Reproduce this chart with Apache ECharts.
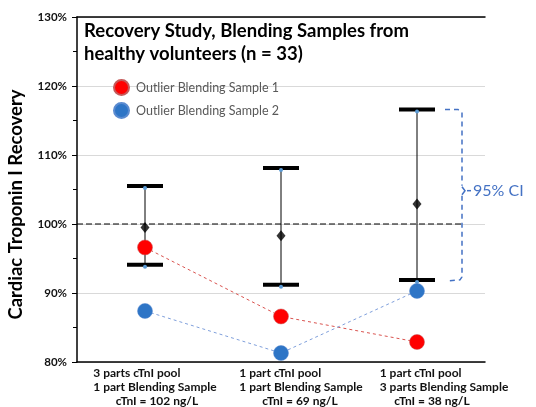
<!DOCTYPE html>
<html><head><meta charset="utf-8">
<script src="https://cdn.jsdelivr.net/npm/echarts@6/dist/echarts.min.js"></script>
<style>html,body{margin:0;padding:0;background:#fff}#c{width:536px;height:407px}</style>
</head><body><div id="c"></div>
<script>
const categories = [
  '3 parts cTnI pool\n1 part Blending Sample\ncTnI = 102 ng/L',
  '1 part cTnI pool\n1 part Blending Sample\ncTnI = 69 ng/L',
  '1 part cTnI pool\n3 parts Blending Sample\ncTnI = 38 ng/L'
];
const ciLow = [0.941, 0.912, 0.919];
const ciHigh = [1.055, 1.081, 1.166];
const meanRecovery = [0.995, 0.983, 1.029];
const outlier1 = [0.966, 0.866, 0.829];
const outlier2 = [0.874, 0.813, 0.903];
const yTicks = [0.8, 0.9, 1.0, 1.1, 1.2, 1.3];
const referenceLevel = 1.0;

// layout only: horizontal nudges of the category label blocks (px)
const labelShift = [10, 20, 27];
const lastLineShift = [2, -1, -12];

const FONT = 'Lato';
const chart = echarts.init(document.getElementById('c'), null, {renderer: 'canvas'});

const errData = categories.map((c, i) => [i, ciLow[i], ciHigh[i]]);
const xLabelStyle = {fontFamily: FONT, fontWeight: 'bold', fontSize: 12, color: '#111', lineHeight: 14};
const rich = {};
labelShift.forEach((s, i) => {
  const P = 2 * s, e = 2 * lastLineShift[i];
  rich['a' + i] = Object.assign({}, xLabelStyle, {align: 'left', padding: [0, 0, 0, P]});
  rich['b' + i] = Object.assign({}, xLabelStyle, {align: 'center', padding: [0, 0, 0, P]});
  rich['c' + i] = Object.assign({}, xLabelStyle, {align: 'center', padding: [0, Math.max(0, -e), 0, P + Math.max(0, e)]});
});

const option = {
  animation: false,
  textStyle: {fontFamily: FONT},
  grid: {left: 77, right: 51, top: 17, bottom: 45, outerBoundsMode: 'none', containLabel: false},
  title: {
    text: 'Recovery Study, Blending Samples from\nhealthy volunteers (n = 33)',
    left: 79, top: 15,
    textStyle: {fontFamily: FONT, fontWeight: 'bold', fontSize: 18.5, color: '#000', lineHeight: 23}
  },
  legend: {
    orient: 'vertical', left: 108, top: 74, itemGap: 6, itemWidth: 15, itemHeight: 15,
    icon: 'circle',
    data: ['Outlier Blending Sample 1', 'Outlier Blending Sample 2'],
    textStyle: {fontFamily: FONT, fontSize: 12.5, color: '#595959', padding: [0,0,0,2]}
  },
  xAxis: [{
    type: 'category', data: categories, boundaryGap: true,
    axisLine: {lineStyle: {color: '#000', width: 1.5}},
    axisTick: {show: false},
    axisLabel: Object.assign({}, xLabelStyle, {
      margin: 4, interval: 0,
      formatter: function (v, i) {
        const l = v.split('\n');
        return '{a' + i + '|' + l[0] + '}\n{b' + i + '|' + l[1] + '}\n{c' + i + '|' + l[2] + '}';
      },
      rich: rich
    })
  }, {
    type: 'category', data: categories, position: 'top',
    axisLine: {lineStyle: {color: '#000', width: 1.5}},
    axisTick: {show: false}, axisLabel: {show: false}
  }],
  yAxis: {
    type: 'value', min: yTicks[0], max: yTicks[yTicks.length - 1], interval: 0.1,
    name: 'Cardiac Troponin I Recovery', nameLocation: 'middle', nameGap: 51,
    nameTextStyle: {fontFamily: FONT, fontWeight: 'bold', fontSize: 18.5, color: '#000', padding: [0, 30, 0, 0]},
    axisLine: {show: true, lineStyle: {color: '#000', width: 1.5}},
    axisTick: {show: true, length: 5, lineStyle: {color: '#000'}},
    minorTick: {show: true, splitNumber: 2, length: 4, lineStyle: {color: '#000'}},
    axisLabel: {fontFamily: FONT, fontWeight: 'bold', fontSize: 11.5, color: '#111', margin: 10,
      formatter: v => Math.round(v * 100) + '%'},
    splitLine: {lineStyle: {color: '#d9d9d9'}}
  },
  series: [
    {
      type: 'custom', name: 'CI', data: errData, encode: {x: 0, y: [1, 2]}, z: 3,
      renderItem: function (params, api) {
        const lo = api.coord([api.value(0), api.value(1)]);
        const hi = api.coord([api.value(0), api.value(2)]);
        const hw = 18;
        return {type: 'group', children: [
          {type: 'line', shape: {x1: lo[0], y1: lo[1], x2: hi[0], y2: hi[1]}, style: {stroke: '#000', lineWidth: 1}},
          {type: 'rect', shape: {x: lo[0] - hw, y: lo[1] - 2, width: hw * 2, height: 4}, style: {fill: '#000'}},
          {type: 'rect', shape: {x: hi[0] - hw, y: hi[1] - 2, width: hw * 2, height: 4}, style: {fill: '#000'}},
          {type: 'circle', shape: {cx: lo[0], cy: lo[1] + 2, r: 2}, style: {fill: '#5b9bd5'}},
          {type: 'circle', shape: {cx: hi[0], cy: hi[1] + 2, r: 2}, style: {fill: '#5b9bd5'}}
        ]};
      }
    },
    {
      type: 'line', name: 'Outlier Blending Sample 1', data: outlier1, z: 4,
      symbol: 'circle', symbolSize: 15,
      itemStyle: {color: '#ff0000', borderColor: '#c55a5a', borderWidth: 0.5},
      lineStyle: {color: '#d9534f', width: 1, type: [3, 3]}
    },
    {
      type: 'line', name: 'Outlier Blending Sample 2', data: outlier2, z: 4,
      symbol: 'circle', symbolSize: 15,
      itemStyle: {color: '#2e75c6', borderColor: '#5b8bd0', borderWidth: 0.5},
      lineStyle: {color: '#7f9fdb', width: 1, type: [3, 3]}
    },
    {
      type: 'scatter', name: 'Mean', data: meanRecovery, z: 5,
      symbol: 'diamond', symbolSize: [9, 11], itemStyle: {color: '#000'}
    }
  ]
};
chart.setOption(option);

// 100% reference line and 95% CI bracket, anchored through the chart's scales
const gridRect = chart.getModel().getComponent('grid').coordinateSystem.getRect();
const refY = chart.convertToPixel({yAxisIndex: 0}, referenceLevel);
const pTop = chart.convertToPixel({xAxisIndex: 0, yAxisIndex: 0}, [2, ciHigh[2]]);
const pBot = chart.convertToPixel({xAxisIndex: 0, yAxisIndex: 0}, [2, ciLow[2]]);
const xs = pTop[0] + 28, xv = pTop[0] + 45;
const ym = (pTop[1] + pBot[1]) / 2 - 4;
const blue = '#4472c4';
const dash = {stroke: blue, lineWidth: 1.5, lineDash: [5, 4], fill: null};
chart.setOption({
  graphic: [
    {type: 'line', z: 2, shape: {x1: gridRect.x, y1: refY, x2: xv + 1, y2: refY}, style: {stroke: '#000', lineWidth: 1, lineDash: [6, 3]}},
    {type: 'polyline', shape: {points: [[xs, pTop[1]], [xv - 4, pTop[1]], [xv, pTop[1] + 3], [xv, ym - 5]]}, style: dash},
    {type: 'polyline', shape: {points: [[xv, ym + 5], [xv, pBot[1] - 3], [xv - 2, pBot[1]], [xs + 2, pBot[1] + 1]]}, style: dash},
    {type: 'polyline', shape: {points: [[xv, ym - 4], [xv + 3, ym], [xv, ym + 4]]}, style: {stroke: blue, lineWidth: 1.5, fill: null}},
    {type: 'line', shape: {x1: xv + 5, y1: ym, x2: xv + 9, y2: ym}, style: {stroke: blue, lineWidth: 1.5}},
    {type: 'text', x: xv + 11, y: ym, style: {text: '95% CI', fill: blue, font: '16px ' + FONT, textVerticalAlign: 'middle'}}
  ]
});
</script>
</body></html>
